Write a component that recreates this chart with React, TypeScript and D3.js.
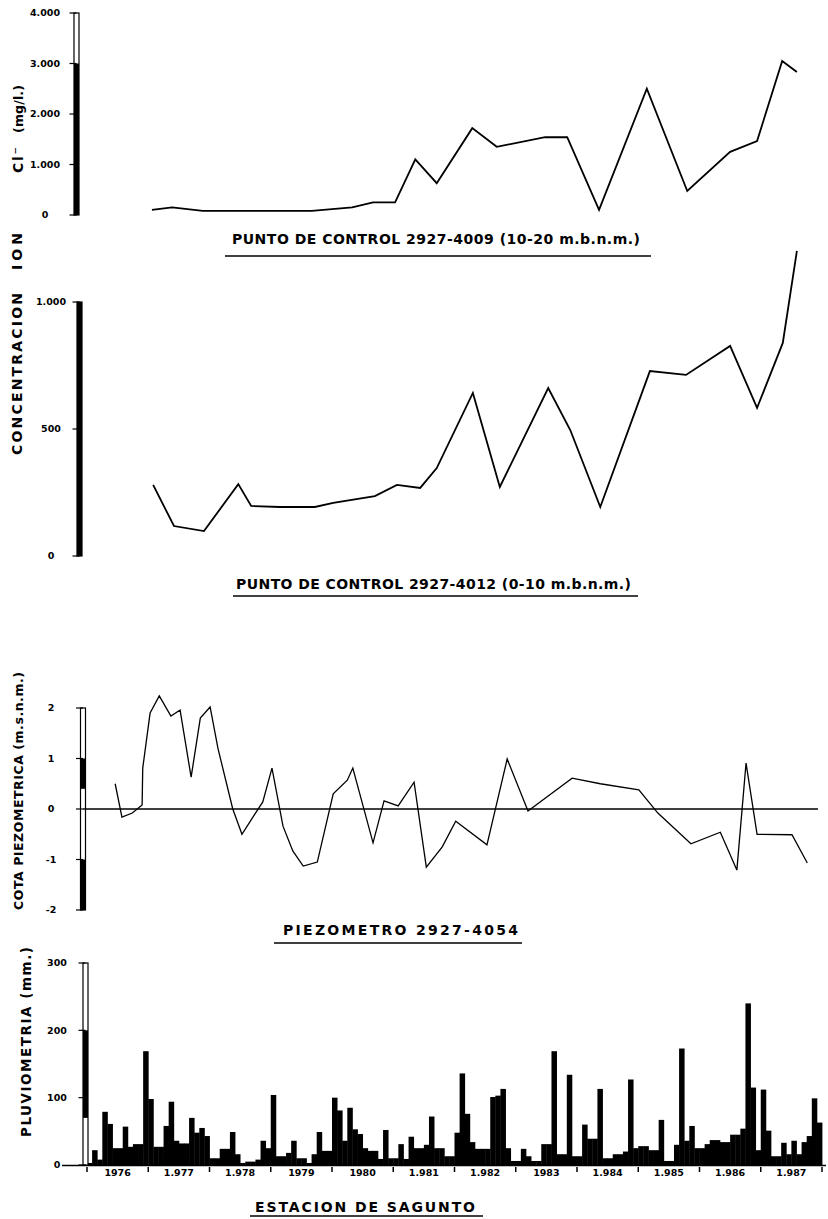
import React from 'react'
import * as d3 from 'd3'

const FONT = '"DejaVu Sans", sans-serif'

// Punto de control 2927-4009 (10-20 m.b.n.m.), Cl- mg/l
const fechas4009 = [1977.06, 1977.39, 1977.89, 1978.38, 1979.31, 1979.67, 1980.33, 1980.67, 1981.03, 1981.36, 1981.71, 1982.29, 1982.69, 1983.48, 1983.84, 1984.36, 1985.14, 1985.8, 1986.5, 1986.94, 1987.35, 1987.59]
const cloruro4009 = [100, 150, 80, 80, 80, 80, 150, 250, 250, 1100, 630, 1720, 1350, 1540, 1540, 100, 2500, 475, 1250, 1465, 3050, 2830]

// Punto de control 2927-4012 (0-10 m.b.n.m.), Cl- mg/l
const fechas4012 = [1977.08, 1977.42, 1977.91, 1978.47, 1978.68, 1979.15, 1979.72, 1980.02, 1980.7, 1981.06, 1981.44, 1981.71, 1982.3, 1982.74, 1983.53, 1983.89, 1984.38, 1985.19, 1985.78, 1986.5, 1986.94, 1987.36, 1987.59]
const cloruro4012 = [280, 118, 98, 283, 197, 193, 193, 209, 236, 280, 268, 346, 642, 272, 661, 496, 193, 728, 713, 827, 583, 839, 1201]

// Piezometro 2927-4054, cota (m.s.n.m.)
const fechas4054 = [1976.46, 1976.57, 1976.74, 1976.9, 1976.91, 1977.03, 1977.18, 1977.37, 1977.52, 1977.7, 1977.85, 1978.01, 1978.14, 1978.38, 1978.53, 1978.74, 1978.87, 1979.02, 1979.2, 1979.36, 1979.53, 1979.76, 1980.02, 1980.25, 1980.34, 1980.67, 1980.85, 1981.08, 1981.34, 1981.54, 1981.8, 1982.02, 1982.53, 1982.86, 1983.2, 1983.92, 1984.38, 1985.01, 1985.32, 1985.86, 1986.34, 1986.61, 1986.76, 1986.94, 1987.51, 1987.76]
const cota4054 = [0.5, -0.16, -0.08, 0.08, 0.81, 1.9, 2.24, 1.84, 1.96, 0.63, 1.8, 2.02, 1.19, 0, -0.5, -0.1, 0.14, 0.81, -0.34, -0.83, -1.13, -1.05, 0.3, 0.57, 0.81, -0.67, 0.16, 0.06, 0.53, -1.15, -0.75, -0.24, -0.71, 0.99, -0.04, 0.61, 0.5, 0.38, -0.08, -0.69, -0.46, -1.21, 0.91, -0.5, -0.51, -1.07]

// Estacion de Sagunto, lluvia mensual (mm), ene 1976 - dic 1987
const lluviaMensual = [
  3, 22, 8, 79, 61, 25, 25, 57, 27, 31, 31, 169,
  98, 27, 27, 58, 94, 36, 32, 32, 70, 48, 55, 43,
  10, 10, 24, 24, 49, 16, 3, 5, 5, 8, 36, 25,
  104, 13, 13, 18, 36, 10, 10, 3, 16, 49, 21, 21,
  100, 81, 36, 85, 53, 46, 25, 21, 21, 9, 52, 10,
  10, 31, 9, 42, 25, 25, 30, 72, 25, 25, 13, 13,
  48, 136, 76, 34, 24, 24, 24, 101, 103, 113, 25, 6,
  6, 24, 13, 6, 6, 31, 31, 169, 16, 16, 134, 13,
  13, 60, 39, 39, 113, 10, 10, 16, 16, 20, 127, 25,
  28, 28, 22, 22, 67, 6, 6, 30, 173, 36, 58, 25,
  25, 31, 37, 37, 34, 34, 45, 45, 54, 240, 115, 22,
  112, 51, 13, 13, 33, 16, 36, 16, 34, 43, 99, 63,
]

const anios = [1976, 1977, 1978, 1979, 1980, 1981, 1982, 1983, 1984, 1985, 1986, 1987]
const etiquetasAnio = ['1976', '1.977', '1.978', '1979', '1980', '1.981', '1.982', '1983', '1.984', '1.985', '1.986', '1.987']

const ticks1 = [0, 1000, 2000, 3000, 4000]
const labels1 = ['0', '1.000', '2.000', '3.000', '4.000']
const ticks2 = [0, 500, 1000]
const labels2 = ['0', '500', '1.000']
const ticks3 = [-2, -1, 0, 1, 2]
const labels3 = ['-2', '-1', '0', '1', '2']
const ticks4 = [0, 100, 200, 300]
const labels4 = ['0', '100', '200', '300']

const x = d3.scaleLinear().domain([1976, 1988]).range([87, 822])

const y1 = d3.scaleLinear().domain([0, 4000]).range([215, 13])
const y2 = d3.scaleLinear().domain([0, 1000]).range([556, 302])
const y3 = d3.scaleLinear().domain([-2, 2]).range([910, 708])
const y4 = d3.scaleLinear().domain([0, 300]).range([1165, 963])

const zip = (a, b) => a.map((d, i) => [d, b[i]])

// thick scanned-looking vertical axis with tick marks and centered labels
const YAxis = ({ ax, scale, ticks, labels, labelX, fills = [], width = 5 }) => {
  const [d0, d1] = scale.domain()
  return (
    <g>
      <rect x={ax - width / 2} y={scale(d1)} width={width} height={scale(d0) - scale(d1)}
        fill="white" stroke="black" strokeWidth={1.2} />
      {fills.map(([a, b], i) => (
        <rect key={i} x={ax - width / 2} y={scale(b)} width={width} height={scale(a) - scale(b)} fill="black" />
      ))}
      {ticks.map((t, i) => (
        <g key={t}>
          <line x1={ax - 7} x2={ax} y1={scale(t)} y2={scale(t)} stroke="black" strokeWidth={1.2} />
          <text x={labelX} y={scale(t)} dy="0.35em" textAnchor="middle" fontFamily={FONT}
            fontWeight="bold" fontSize={9.5}>{labels[i]}</text>
        </g>
      ))}
    </g>
  )
}

const Title = ({ text, x0, x1, base, ux0, ux1, uy }) => (
  <g>
    <text x={x0} y={base} fontFamily={FONT} fontWeight="bold" fontSize={14}
      textLength={x1 - x0} lengthAdjust="spacing">{text}</text>
    <line x1={ux0} x2={ux1} y1={uy} y2={uy} stroke="black" strokeWidth={1.5} />
  </g>
)

const VLabel = ({ text, cx, y0, y1, size = 14 }) => (
  <text transform={`translate(${cx},${(y0 + y1) / 2}) rotate(-90)`} textAnchor="middle"
    dominantBaseline="central" fontFamily={FONT} fontWeight="bold" fontSize={size}
    textLength={y1 - y0} lengthAdjust="spacing">{text}</text>
)

export default function App() {
  const line = (ys) => d3.line().x((d) => x(d[0])).y((d) => ys(d[1]))
  const anchoMes = (x(1988) - x(1976)) / 144

  return (
    <svg width={828} height={1219} style={{ position: 'absolute', left: 0, top: 0, background: 'white' }}>
      <rect width={828} height={1219} fill="white" />

      {/* shared concentration label */}
      <VLabel text="CONCENTRACION" cx={17} y0={293} y1={455} />
      <VLabel text="ION" cx={17} y0={233} y1={270} />
      <VLabel text="Cl⁻" cx={18} y0={147} y1={173} />
      <VLabel text="(mg/l.)" cx={18} y0={85} y1={133} size={12.5} />

      {/* panel 1 */}
      <YAxis ax={76.5} scale={y1} ticks={ticks1} labels={labels1} labelX={45} fills={[[0, 3000]]} />
      <path d={line(y1)(zip(fechas4009, cloruro4009))} fill="none" stroke="black" strokeWidth={1.8} />
      <Title text="PUNTO DE CONTROL 2927-4009 (10-20 m.b.n.m.)" x0={232} x1={640} base={244}
        ux0={225} ux1={651} uy={256} />

      {/* panel 2 */}
      <YAxis ax={79.5} scale={y2} ticks={ticks2} labels={labels2} labelX={51} fills={[[0, 1000]]} />
      <path d={line(y2)(zip(fechas4012, cloruro4012))} fill="none" stroke="black" strokeWidth={1.8} />
      <Title text="PUNTO DE CONTROL 2927-4012 (0-10 m.b.n.m.)" x0={236} x1={631} base={589}
        ux0={233} ux1={638} uy={596} />

      {/* panel 3 */}
      <VLabel text="COTA PIEZOMETRICA (m.s.n.m.)" cx={18} y0={672} y1={910} size={12.5} />
      <YAxis ax={83} scale={y3} ticks={ticks3} labels={labels3} labelX={51} fills={[[-2, -1], [0.4, 1]]} />
      <line x1={83} x2={818} y1={y3(0)} y2={y3(0)} stroke="black" strokeWidth={1.4} />
      <path d={line(y3)(zip(fechas4054, cota4054))} fill="none" stroke="black" strokeWidth={1.3} />
      <Title text="PIEZOMETRO  2927-4054" x0={283} x1={518} base={935} ux0={274} ux1={522} uy={943} />

      {/* panel 4 */}
      <VLabel text="PLUVIOMETRIA (mm.)" cx={26} y0={947} y1={1137} size={13.5} />
      {lluviaMensual.map((v, i) => (
        <rect key={i} x={x(1976 + i / 12)} y={y4(v)} width={anchoMes + 0.4} height={y4(0) - y4(v)} fill="black" />
      ))}
      <line x1={62} x2={826} y1={y4(0) + 0.5} y2={y4(0) + 0.5} stroke="black" strokeWidth={1.6} />
      <YAxis ax={85.5} scale={y4} ticks={ticks4} labels={labels4} labelX={57} fills={[[70, 200]]} />
      {anios.map((a, i) => (
        <g key={a}>
          <line x1={x(a)} x2={x(a)} y1={y4(0) + 2} y2={y4(0) + 7} stroke="black" strokeWidth={1.5} />
          <text x={x(a + 0.5)} y={1176} textAnchor="middle" fontFamily={FONT} fontWeight="bold"
            fontSize={9.5}>{etiquetasAnio[i]}</text>
        </g>
      ))}
      <line x1={x(1988)} x2={x(1988)} y1={y4(0) + 2} y2={y4(0) + 7} stroke="black" strokeWidth={1.5} />
      <Title text="ESTACION  DE  SAGUNTO" x0={255} x1={475} base={1212} ux0={250} ux1={483} uy={1216} />
    </svg>
  )
}
